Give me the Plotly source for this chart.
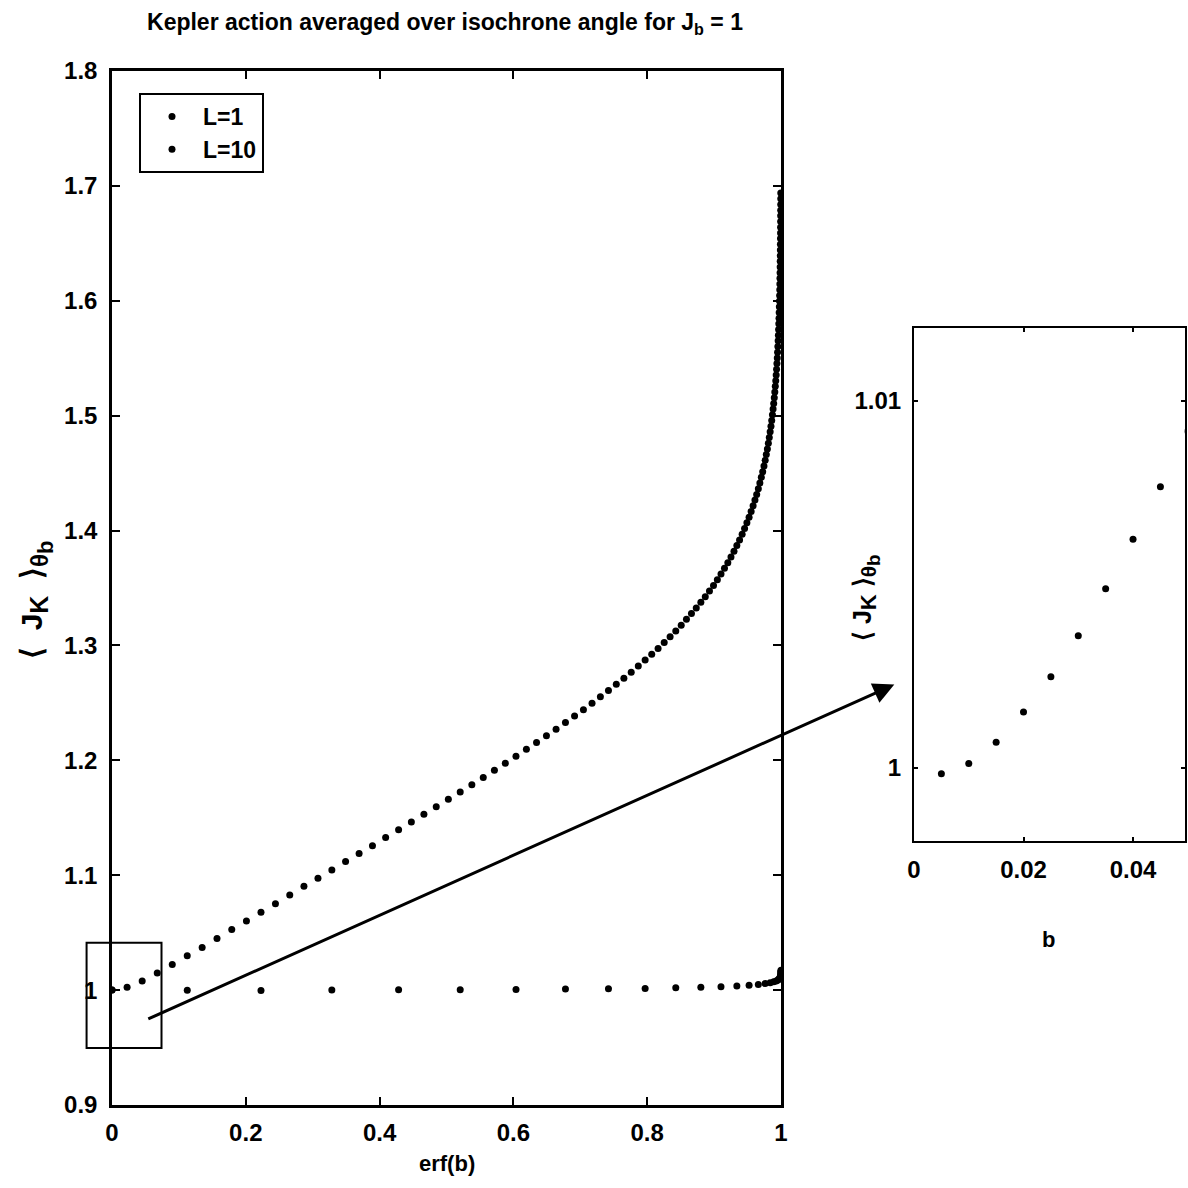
import plotly.graph_objects as go

# ---------------- data ----------------
# L = 1 series (x = erf(b), y = <J_K>)
L1_X = [0.0, 0.02256, 0.04511, 0.06762, 0.09008, 0.11246, 0.13476, 0.15695, 0.17901, 0.20094,
        0.22270, 0.24430, 0.26570, 0.28690, 0.30788, 0.32863, 0.34913, 0.36936, 0.38933, 0.40901,
        0.42839, 0.44747, 0.46623, 0.48466, 0.50275, 0.52050, 0.53790, 0.55494, 0.57162, 0.58792,
        0.60386, 0.61941, 0.63459, 0.64938, 0.66378, 0.67780, 0.69143, 0.70468, 0.71754, 0.73001,
        0.74210, 0.75381, 0.76514, 0.77610, 0.78669, 0.79691, 0.80677, 0.81627, 0.82542, 0.83423,
        0.84270, 0.85084, 0.85865, 0.86614, 0.87333, 0.88021, 0.88679, 0.89308, 0.89910, 0.90484,
        0.91031, 0.91553, 0.92051, 0.92524, 0.92973, 0.93401, 0.93807, 0.94191, 0.94556, 0.94902,
        0.95229, 0.95538, 0.95830, 0.96105, 0.96365, 0.96611, 0.96841, 0.97059, 0.97263, 0.97455,
        0.97635, 0.97804, 0.97962, 0.98110, 0.98249, 0.98379, 0.98500, 0.98613, 0.98719, 0.98817,
        0.98909, 0.98994, 0.99074, 0.99147, 0.99216, 0.99279, 0.99338, 0.99392, 0.99443, 0.99489,
        0.99532, 0.99572, 0.99609, 0.99642, 0.99673, 0.99702, 0.99728, 0.99753, 0.99775, 0.99795,
        0.99814, 0.99831, 0.99846, 0.99861, 0.99874, 0.99886, 0.99897, 0.99906, 0.99915, 0.99924,
        0.99931, 0.99938, 0.99944, 0.99950, 0.99955, 0.99959, 0.99963, 0.99967]
L1_Y = [1.0000, 1.0025, 1.0080, 1.0150, 1.0222, 1.0298, 1.0371, 1.0449, 1.0527, 1.0601,
        1.0677, 1.0752, 1.0827, 1.0903, 1.0973, 1.1045, 1.1120, 1.1189, 1.1257, 1.1329,
        1.1395, 1.1464, 1.1530, 1.1596, 1.1662, 1.1725, 1.1788, 1.1851, 1.1914, 1.1974,
        1.2035, 1.2096, 1.2155, 1.2213, 1.2271, 1.2330, 1.2385, 1.2440, 1.2497, 1.2553,
        1.2608, 1.2662, 1.2715, 1.2767, 1.2821, 1.2873, 1.2923, 1.2974, 1.3026, 1.3076,
        1.3125, 1.3176, 1.3227, 1.3277, 1.3327, 1.3376, 1.3424, 1.3473, 1.3522, 1.3572,
        1.3621, 1.3671, 1.3720, 1.3770, 1.3819, 1.3869, 1.3918, 1.3968, 1.4017, 1.4067,
        1.4116, 1.4166, 1.4215, 1.4265, 1.4314, 1.4364, 1.4413, 1.4463, 1.4512, 1.4562,
        1.4611, 1.4661, 1.4710, 1.4760, 1.4809, 1.4859, 1.4908, 1.4958, 1.5007, 1.5057,
        1.5106, 1.5156, 1.5205, 1.5255, 1.5304, 1.5354, 1.5403, 1.5453, 1.5502, 1.5552,
        1.5601, 1.5651, 1.5700, 1.5750, 1.5799, 1.5849, 1.5898, 1.5948, 1.5997, 1.6047,
        1.6096, 1.6146, 1.6195, 1.6245, 1.6294, 1.6344, 1.6393, 1.6443, 1.6492, 1.6542,
        1.6591, 1.6641, 1.6690, 1.6740, 1.6789, 1.6839, 1.6888, 1.6938]

# L = 10 series
L10_X = [0.0, 0.1125, 0.2227, 0.3286, 0.4284, 0.5205, 0.6039, 0.6778, 0.7421, 0.7969,
         0.8427, 0.8802, 0.9103, 0.9340, 0.9523, 0.9661, 0.9763, 0.9838, 0.9891, 0.9928,
         0.9953, 0.9970, 0.9981, 0.99886, 0.99931, 0.99959, 0.99976, 0.99987, 0.99992, 0.99996,
         0.99998]
L10_Y = [1.0000, 0.9998, 0.9997, 1.0001, 1.0003, 1.0004, 1.0006, 1.0009, 1.0012, 1.0015,
         1.0020, 1.0025, 1.0030, 1.0036, 1.0042, 1.0049, 1.0057, 1.0064, 1.0072, 1.0080,
         1.0088, 1.0096, 1.0105, 1.0114, 1.0123, 1.0132, 1.0141, 1.0150, 1.0158, 1.0165,
         1.0172]

# Inset (zoom on small b)
INSET_B = [0.005, 0.010, 0.015, 0.020, 0.025, 0.030, 0.035, 0.040, 0.045, 0.050]
INSET_Y = [0.99984, 1.00012, 1.00070, 1.00152, 1.00248, 1.00360, 1.00488, 1.00623, 1.00766, 1.00917]

MAIN_X_TICKS = [0, 0.2, 0.4, 0.6, 0.8, 1]
MAIN_Y_TICKS = [0.9, 1.0, 1.1, 1.2, 1.3, 1.4, 1.5, 1.6, 1.7, 1.8]
INSET_X_TICKS = [0, 0.02, 0.04]
INSET_X_TEXT = ["0", "0.02", "0.04"]
INSET_Y_TICKS = [1, 1.01]
INSET_Y_TEXT = ["1", "1.01"]

# zoom box drawn on the main axes (data units) and arrow ends
ZOOM_BOX_X = [-0.038, 0.074]
ZOOM_BOX_Y = [0.9497, 1.0412]
ARROW_TAIL_MAIN = (0.052, 0.9743)      # in main-axes data
ARROW_HEAD_INSET = (-0.0036, 1.00227)  # in inset-axes data

# ---------------- layout geometry ----------------
W = H = 1188
MAIN_X_RANGE = [0, 1]
MAIN_Y_RANGE = [0.9, 1.8]
INS_X_RANGE = [0, 0.0494]
INS_Y_RANGE = [0.99801, 1.01198]
MAIN_X_DOM = [112 / W, 781 / W]
MAIN_Y_DOM = [1 - 1105 / H, 1 - 71 / H]
INS_X_DOM = [914 / W, 1184.5 / W]
INS_Y_DOM = [1 - 841 / H, 1 - 328 / H]

FONT = "Liberation Sans, Arial, Helvetica, sans-serif"


def to_paper(v, rng, dom):
    return dom[0] + (v - rng[0]) / (rng[1] - rng[0]) * (dom[1] - dom[0])


fig = go.Figure()
fig.add_trace(go.Scatter(x=L1_X, y=L1_Y, mode="markers", name="L=1", legendgroup="a",
                         marker=dict(color="black", size=7), xaxis="x", yaxis="y"))
fig.add_trace(go.Scatter(x=L10_X, y=L10_Y, mode="markers", name="L=10", legendgroup="b",
                         marker=dict(color="black", size=7), xaxis="x", yaxis="y"))
fig.add_trace(go.Scatter(x=INSET_B, y=INSET_Y, mode="markers", showlegend=False,
                         marker=dict(color="black", size=7), xaxis="x2", yaxis="y2"))

tickfont = dict(family=FONT, size=24, color="black", weight="bold")
common = dict(showgrid=False, zeroline=False, showline=True, linecolor="black",
              ticks="inside", tickcolor="black", mirror="ticks", tickfont=tickfont)

fig.update_layout(
    width=W, height=H,
    margin=dict(l=0, r=0, t=0, b=0, pad=0, autoexpand=False),
    paper_bgcolor="white", plot_bgcolor="white",
    xaxis=dict(domain=MAIN_X_DOM, range=MAIN_X_RANGE, tickvals=MAIN_X_TICKS, automargin=False,
               anchor="y", linewidth=2.5, ticklen=8, tickwidth=2, ticklabelstandoff=4, **common),
    yaxis=dict(domain=MAIN_Y_DOM, range=MAIN_Y_RANGE, tickvals=MAIN_Y_TICKS, automargin=False,
               anchor="x", linewidth=2.5, ticklen=8, tickwidth=2, ticklabelstandoff=7, **common),
    xaxis2=dict(domain=INS_X_DOM, range=INS_X_RANGE, tickvals=INSET_X_TICKS, automargin=False,
                ticktext=INSET_X_TEXT, anchor="y2", linewidth=2, ticklen=4, tickwidth=2,
                ticklabelstandoff=6, **common),
    yaxis2=dict(domain=INS_Y_DOM, range=INS_Y_RANGE, tickvals=INSET_Y_TICKS, automargin=False,
                ticktext=INSET_Y_TEXT, anchor="x2", linewidth=2, ticklen=4, tickwidth=2,
                ticklabelstandoff=6, **common),
    showlegend=True,
    legend=dict(x=139 / W, y=1 - 93 / H, xanchor="left", yanchor="top",
                bordercolor="black", borderwidth=2, bgcolor="white",
                traceorder="grouped", tracegroupgap=0, itemwidth=52,
                font=dict(family=FONT, size=23, color="black", weight="bold")),
    title=dict(text="Kepler action averaged over isochrone angle for J<sub>b</sub> = 1",
               x=445 / W, y=1 - 22 / H, xanchor="center", yanchor="middle",
               font=dict(family=FONT, size=23, color="black", weight="bold")),
)

# zoom box on main axes
fig.add_shape(type="rect", xref="paper", yref="paper",
              x0=to_paper(ZOOM_BOX_X[0], MAIN_X_RANGE, MAIN_X_DOM),
              x1=to_paper(ZOOM_BOX_X[1], MAIN_X_RANGE, MAIN_X_DOM),
              y0=to_paper(ZOOM_BOX_Y[0], MAIN_Y_RANGE, MAIN_Y_DOM),
              y1=to_paper(ZOOM_BOX_Y[1], MAIN_Y_RANGE, MAIN_Y_DOM),
              line=dict(color="black", width=2))

# arrow from zoom box to inset
tail_px = (to_paper(ARROW_TAIL_MAIN[0], MAIN_X_RANGE, MAIN_X_DOM) * W,
           (1 - to_paper(ARROW_TAIL_MAIN[1], MAIN_Y_RANGE, MAIN_Y_DOM)) * H)
head_p = (to_paper(ARROW_HEAD_INSET[0], INS_X_RANGE, INS_X_DOM),
          to_paper(ARROW_HEAD_INSET[1], INS_Y_RANGE, INS_Y_DOM))
head_px = (head_p[0] * W, (1 - head_p[1]) * H)
fig.add_annotation(x=head_p[0], y=head_p[1], xref="paper", yref="paper",
                   ax=tail_px[0] - head_px[0], ay=tail_px[1] - head_px[1],
                   axref="pixel", ayref="pixel", text="", showarrow=True,
                   arrowhead=2, arrowsize=1.4, arrowwidth=3, arrowcolor="black", standoff=0)

NB = "\u00a0"
labfont = dict(family=FONT, size=22, color="black", weight="bold")
ylab_main = ("⟨" + NB * 2 + "J<sub><span style='font-size:25px'>K</span></sub>" + NB * 2 + "⟩"
             "<sub><span style='font-size:24px'>θ</span>"
             "<sub><span style='font-size:22px'>b</span></sub></sub>")
ylab_ins = ("⟨" + NB + "J<sub><span style='font-size:22px'>K</span></sub>" + NB + "⟩"
            "<sub><span style='font-size:21px'>θ</span>"
            "<sub><span style='font-size:19px'>b</span></sub></sub>")
fig.add_annotation(text="erf(b)", x=447 / W, y=1 - 1163 / H, xref="paper", yref="paper",
                   xanchor="center", yanchor="middle", showarrow=False, font=labfont)
fig.add_annotation(text=ylab_main, x=36 / W, y=1 - 600 / H, xref="paper", yref="paper",
                   xanchor="center", yanchor="middle", showarrow=False, textangle=-90,
                   font=dict(family=FONT, size=30, color="black", weight="bold"))
fig.add_annotation(text="b", x=1048 / W, y=1 - 940 / H, xref="paper", yref="paper",
                   xanchor="center", yanchor="middle", showarrow=False, font=labfont)
fig.add_annotation(text=ylab_ins, x=866 / W, y=1 - 598 / H, xref="paper", yref="paper",
                   xanchor="center", yanchor="middle", showarrow=False, textangle=-90,
                   font=dict(family=FONT, size=25, color="black", weight="bold"))

fig.write_html("out.html")
